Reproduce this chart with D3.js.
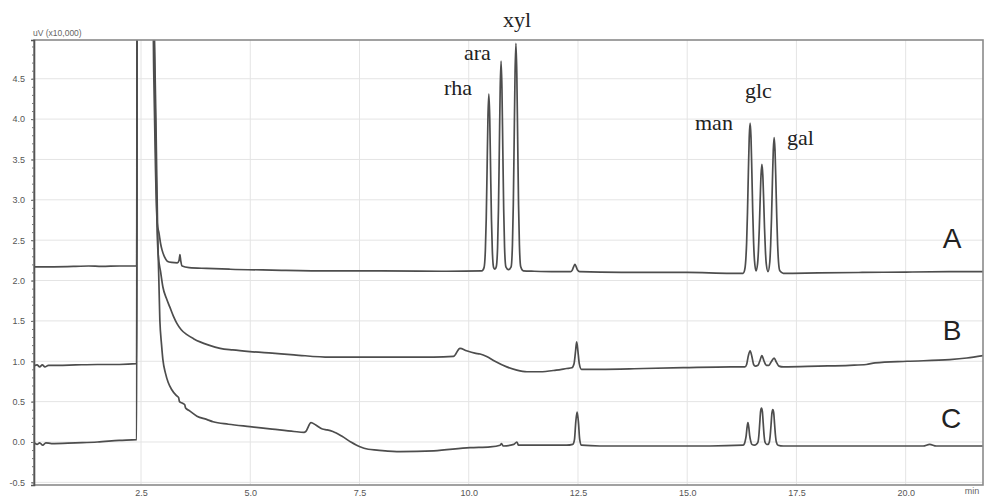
<!DOCTYPE html>
<html>
<head>
<meta charset="utf-8">
<script src="https://cdn.jsdelivr.net/npm/d3@7"></script>
<style>
  html, body { margin: 0; padding: 0; background: #fff; }
  svg { display: block; }
</style>
</head>
<body>
<div id="chart"></div>
<script>
// ---------------- DATA ----------------
// retention time (min), signal (uV x10,000)
const traceA = [
  [0.05,2.17],[0.5,2.17],[1.0,2.175],[1.3,2.18],[1.6,2.175],[2.0,2.18],[2.40,2.18],
  [2.41,6],[2.76,6],[2.79,4.6],[2.83,3.4],[2.87,2.71],[2.91,2.59],[2.95,2.45],[2.98,2.38],
  [3.04,2.29],[3.10,2.24],[3.2,2.225],[3.33,2.22],[3.37,2.25],[3.39,2.32],[3.41,2.24],[3.44,2.18],
  [3.6,2.16],[4.0,2.15],[4.54,2.14],[5.5,2.13],[6.82,2.12],[8.0,2.12],[9.5,2.115],[10.3,2.12],
  [10.35,2.16],[10.38,2.37],[10.40,2.76],[10.42,3.38],[10.44,4.03],[10.46,4.31],[10.48,4.03],
  [10.50,3.38],[10.52,2.76],[10.54,2.37],[10.57,2.16],[10.60,2.14],
  [10.63,2.17],[10.66,2.41],[10.68,2.88],[10.70,3.62],[10.72,4.38],[10.74,4.72],[10.76,4.38],
  [10.78,3.62],[10.80,2.88],[10.82,2.41],[10.85,2.17],[10.91,2.135],
  [10.97,2.17],[11.00,2.44],[11.02,2.94],[11.04,3.75],[11.06,4.57],[11.08,4.94],[11.10,4.57],
  [11.12,3.75],[11.14,2.94],[11.16,2.44],[11.19,2.17],[11.25,2.12],
  [11.5,2.115],[12.0,2.11],[12.33,2.11],[12.37,2.13],[12.40,2.17],[12.43,2.20],[12.46,2.17],
  [12.49,2.13],[12.54,2.11],[13.5,2.10],[15.0,2.10],[16.0,2.09],[16.28,2.09],
  [16.31,2.12],[16.34,2.25],[16.36,2.47],[16.38,2.85],[16.40,3.34],[16.42,3.78],[16.44,3.95],
  [16.46,3.78],[16.48,3.34],[16.50,2.85],[16.52,2.47],[16.54,2.25],[16.575,2.12],
  [16.61,2.205],[16.63,2.37],[16.65,2.645],[16.67,3.0],[16.69,3.31],[16.71,3.44],[16.73,3.31],
  [16.75,3.0],[16.77,2.645],[16.79,2.37],[16.81,2.205],[16.85,2.11],
  [16.89,2.23],[16.91,2.44],[16.93,2.78],[16.95,3.22],[16.97,3.61],[16.99,3.77],[17.01,3.61],
  [17.03,3.22],[17.05,2.78],[17.07,2.44],[17.09,2.23],[17.12,2.12],[17.2,2.09],
  [18.0,2.095],[19.0,2.10],[20.0,2.105],[21.0,2.11],[21.77,2.11]
];

const traceB = [
  [0.05,0.94],[0.12,0.955],[0.18,0.93],[0.24,0.955],[0.30,0.93],[0.38,0.95],[0.6,0.95],
  [1.0,0.955],[1.5,0.96],[2.0,0.96],[2.40,0.97],
  [2.41,6],[2.76,6],[2.80,5.0],[2.84,3.5],[2.87,2.6],[2.89,2.34],[2.95,2.1],[3.0,1.92],
  [3.08,1.78],[3.16,1.67],[3.24,1.56],[3.32,1.47],[3.42,1.39],[3.55,1.33],[3.7,1.28],
  [3.85,1.24],[4.05,1.2],[4.31,1.16],[4.6,1.14],[4.99,1.12],[5.5,1.10],[6.0,1.08],[6.82,1.05],
  [7.6,1.05],[8.43,1.05],[9.2,1.05],[9.65,1.06],[9.80,1.16],[9.95,1.13],[10.14,1.10],
  [10.26,1.09],[10.41,1.06],[10.6,1.0],[10.87,0.93],[11.1,0.89],[11.33,0.87],[11.63,0.87],
  [12.0,0.89],[12.24,0.91],[12.36,0.92],[12.41,0.97],[12.44,1.1],[12.47,1.24],[12.50,1.12],
  [12.53,0.97],[12.58,0.90],[13.0,0.90],[14.0,0.91],[14.91,0.92],[16.0,0.93],[16.32,0.93],
  [16.36,0.96],[16.40,1.07],[16.44,1.13],[16.48,1.06],[16.52,0.96],[16.56,0.94],[16.62,0.95],
  [16.66,1.0],[16.71,1.07],[16.76,1.0],[16.81,0.95],[16.87,0.95],[16.92,0.99],[16.99,1.04],
  [17.04,0.99],[17.10,0.94],[17.2,0.93],[18.0,0.94],[18.72,0.95],[19.1,0.96],[19.3,0.98],
  [20.03,1.0],[21.01,1.02],[21.4,1.04],[21.77,1.07]
];

const traceC = [
  [0.05,-0.01],[0.12,-0.03],[0.18,-0.01],[0.25,-0.04],[0.32,-0.01],[0.45,-0.02],[1.0,-0.01],
  [1.5,0.0],[2.0,0.02],[2.40,0.03],
  [2.41,6],[2.76,6],[2.80,5.2],[2.84,4.0],[2.88,2.6],[2.93,1.51],[2.97,1.2],[3.0,1.02],
  [3.06,0.85],[3.12,0.74],[3.2,0.65],[3.3,0.58],[3.36,0.55],[3.38,0.5],[3.45,0.48],[3.5,0.46],
  [3.52,0.42],[3.6,0.39],[3.78,0.32],[4.0,0.28],[4.15,0.25],[4.5,0.22],[4.99,0.19],[5.5,0.16],
  [6.0,0.13],[6.23,0.12],[6.27,0.13],[6.39,0.24],[6.5,0.21],[6.65,0.16],[6.76,0.15],[6.89,0.13],
  [7.1,0.07],[7.3,0.0],[7.51,-0.06],[7.7,-0.09],[7.9,-0.10],[8.43,-0.12],[9.2,-0.11],
  [10.03,-0.07],[10.49,-0.06],[10.72,-0.04],[10.75,-0.02],[10.79,-0.05],[11.03,-0.03],
  [11.10,0.0],[11.14,-0.04],[11.6,-0.04],[12.24,-0.04],[12.38,-0.03],[12.42,0.03],[12.45,0.25],
  [12.48,0.37],[12.51,0.25],[12.54,0.03],[12.58,-0.04],[13.0,-0.05],[14.0,-0.05],[15.52,-0.05],
  [16.28,-0.04],[16.31,-0.02],[16.33,0.02],[16.35,0.08],[16.37,0.18],[16.39,0.24],[16.41,0.18],
  [16.43,0.08],[16.45,0.02],[16.48,-0.03],[16.54,-0.04],
  [16.58,-0.03],[16.62,0.0],[16.64,0.08],[16.66,0.23],[16.68,0.38],[16.70,0.42],[16.72,0.38],
  [16.74,0.23],[16.76,0.08],[16.78,0.0],[16.82,-0.03],
  [16.85,-0.03],[16.88,0.0],[16.90,0.08],[16.92,0.22],[16.94,0.36],[16.96,0.40],[16.98,0.36],
  [17.00,0.22],[17.02,0.08],[17.04,0.0],[17.08,-0.04],[17.2,-0.05],[18.72,-0.05],[20.4,-0.05],
  [20.55,-0.03],[20.7,-0.05],[21.77,-0.05]
];

const peakLabels = ["xyl", "ara", "rha", "glc", "man", "gal"];
const traceNames = ["A", "B", "C"];

const xTicks = [2.5, 5.0, 7.5, 10.0, 12.5, 15.0, 17.5, 20.0];
const xTickLabels = ["2.5", "5.0", "7.5", "10.0", "12.5", "15.0", "17.5", "20.0"];
const yTicks = [-0.5, 0.0, 0.5, 1.0, 1.5, 2.0, 2.5, 3.0, 3.5, 4.0, 4.5];
const yTickLabels = ["-0.5", "0.0", "0.5", "1.0", "1.5", "2.0", "2.5", "3.0", "3.5", "4.0", "4.5"];
const yUnitLabel = "uV (x10,000)";
const xUnitLabel = "min";

// ---------------- LAYOUT ----------------
const W = 987, H = 497;
const L = 34, R = 983, T = 40, B = 485;

// positions of labels (pixel layout, not data)
const peakLabelPos = {
  xyl: [503, 27], ara: [464, 60], rha: [444, 95],
  glc: [745, 98], man: [695, 130], gal: [787, 145]
};
const traceLabelPos = { A: [952, 248], B: [952, 340], C: [951, 428] };

const svg = d3.select("#chart").append("svg")
  .attr("width", W).attr("height", H);

const x = d3.scaleLinear().domain([0.05, 21.77]).range([L, R]);
const y = d3.scaleLinear().domain([-0.533, 4.98]).range([B, T]);

// grid
const grid = svg.append("g");
grid.selectAll("line.vg").data(xTicks).join("line")
  .attr("x1", d => x(d)).attr("x2", d => x(d))
  .attr("y1", T).attr("y2", B)
  .attr("stroke", "#e4e4e4").attr("stroke-width", 1);
grid.selectAll("line.hg").data(yTicks).join("line")
  .attr("x1", L).attr("x2", R)
  .attr("y1", d => y(d)).attr("y2", d => y(d))
  .attr("stroke", "#e4e4e4").attr("stroke-width", 1);

// clip
svg.append("clipPath").attr("id", "clip")
  .append("rect").attr("x", L).attr("y", T).attr("width", R - L).attr("height", B - T);

const line = d3.line()
  .x(d => x(d[0])).y(d => y(d[1]))
  .curve(d3.curveMonotoneX);

const traces = svg.append("g").attr("clip-path", "url(#clip)");
[traceC, traceB, traceA].forEach(tr => {
  traces.append("path")
    .datum(tr)
    .attr("d", line)
    .attr("fill", "none")
    .attr("stroke", "#4d4d4d")
    .attr("stroke-width", 1.7)
    .attr("stroke-linejoin", "round");
});

// frame
svg.append("rect")
  .attr("x", L).attr("y", T).attr("width", R - L).attr("height", B - T)
  .attr("fill", "none").attr("stroke", "#8a8a8a").attr("stroke-width", 1.6);

// y axis
const yAxis = d3.axisLeft(y)
  .tickValues(yTicks)
  .tickFormat((d, i) => yTickLabels[i])
  .tickSize(3).tickPadding(6);
const gy = svg.append("g").attr("transform", `translate(${L},0)`).call(yAxis);
gy.select(".domain").attr("stroke", "#555").attr("stroke-width", 1.6);
gy.selectAll(".tick line").attr("stroke", "#666");
gy.selectAll("text").attr("font-family", "Liberation Sans, Arial, sans-serif")
  .attr("font-size", 9).attr("fill", "#555");

// minor ticks on y axis
const minor = d3.range(-5, 50).map(k => k / 10);
svg.append("g").attr("transform", `translate(${L},0)`)
  .call(d3.axisLeft(y).tickValues(minor).tickSize(2).tickFormat(""))
  .call(g => g.select(".domain").remove())
  .selectAll("line").attr("stroke", "#777");

// x axis
const xAxis = d3.axisBottom(x)
  .tickValues(xTicks)
  .tickFormat((d, i) => xTickLabels[i])
  .tickSize(0).tickPadding(5);
const gx = svg.append("g").attr("transform", `translate(0,${B})`).call(xAxis);
gx.select(".domain").remove();
gx.selectAll("text").attr("font-family", "Liberation Sans, Arial, sans-serif")
  .attr("font-size", 9).attr("fill", "#555");

// unit labels
svg.append("text").attr("x", L - 1).attr("y", T - 4)
  .attr("font-family", "Liberation Sans, Arial, sans-serif")
  .attr("font-size", 8.5).attr("fill", "#666").text(yUnitLabel);
svg.append("text").attr("x", 972).attr("y", 494).attr("text-anchor", "middle")
  .attr("font-family", "Liberation Sans, Arial, sans-serif")
  .attr("font-size", 9).attr("fill", "#666").text(xUnitLabel);

// peak labels
svg.append("g").selectAll("text").data(peakLabels).join("text")
  .attr("x", d => peakLabelPos[d][0]).attr("y", d => peakLabelPos[d][1])
  .attr("font-family", "Liberation Serif, 'Times New Roman', serif")
  .attr("font-size", 22).attr("fill", "#222").text(d => d);

// trace labels
svg.append("g").selectAll("text").data(traceNames).join("text")
  .attr("x", d => traceLabelPos[d][0]).attr("y", d => traceLabelPos[d][1])
  .attr("text-anchor", "middle")
  .attr("font-family", "Liberation Sans, Arial, sans-serif")
  .attr("font-size", 28).attr("fill", "#222").text(d => d);
</script>
</body>
</html>
